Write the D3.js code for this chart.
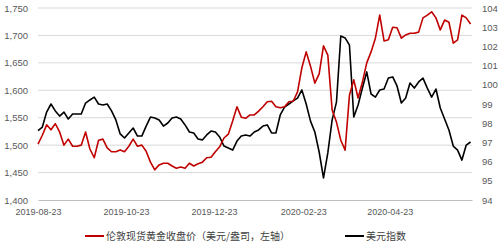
<!DOCTYPE html>
<html>
<head>
<meta charset="utf-8">
<script src="https://cdn.jsdelivr.net/npm/d3@7"></script>
<style>
  body { margin: 0; background: #fff; }
  svg { display: block; font-family: "Noto Sans CJK SC", "Noto Sans", sans-serif; }
</style>
</head>
<body>
<svg id="chart"></svg>
<script>
// sampled every 3 days from 2019-08-23
const startDate = '2019-08-23';
const dayStep = 3;

const gold = [
  1502, 1518, 1537, 1528, 1539, 1524, 1500, 1511, 1498, 1498,
  1500, 1524, 1493, 1477, 1509, 1511, 1495, 1488, 1488, 1491,
  1488, 1498, 1511, 1498, 1500, 1489, 1469, 1455, 1464, 1467,
  1467, 1462, 1458, 1460, 1458, 1467, 1462, 1466, 1469, 1477,
  1478, 1488, 1497, 1513, 1520, 1544, 1570, 1551, 1549, 1555,
  1555, 1562, 1570, 1579, 1580, 1570, 1568, 1570, 1579, 1580,
  1597, 1641, 1670, 1644, 1613, 1630, 1681, 1664, 1564, 1542,
  1509, 1491, 1591, 1619, 1586, 1615, 1650, 1670, 1695, 1737,
  1690, 1692, 1715, 1714, 1695, 1701, 1704, 1704, 1706, 1732,
  1737, 1743, 1732, 1710, 1728, 1724, 1686, 1692, 1737, 1732,
  1721
];

const dxy = [
  97.61, 97.80, 98.58, 99.00, 98.64, 98.37, 98.58, 98.22, 98.48, 98.48,
  98.48, 99.05, 99.21, 99.36, 99.00, 98.95, 99.00, 98.64, 98.17, 97.44,
  97.23, 97.49, 97.75, 97.33, 97.33, 97.85, 98.32, 98.27, 98.17, 97.85,
  98.01, 98.27, 98.32, 98.22, 97.91, 97.54, 97.49, 97.18, 97.13, 97.39,
  97.59, 97.54, 97.28, 96.81, 96.71, 96.60, 97.07, 97.33, 97.39, 97.33,
  97.54, 97.65, 97.85, 97.91, 97.49, 97.49, 98.43, 98.84, 99.00, 99.16,
  99.31, 99.73, 99.00, 98.11, 97.54, 96.50, 95.15, 96.45, 98.17, 99.10,
  102.54, 102.44, 102.07, 98.32, 98.95, 99.83, 100.67, 99.52, 99.36, 99.73,
  99.78, 100.35, 100.41, 99.94, 99.05, 99.31, 100.09, 99.83, 100.15, 100.35,
  99.83, 99.36, 99.78, 98.79, 98.22, 97.65, 96.81, 96.60, 96.08, 96.86,
  97.02
];

const dateTicks = ['2019-08-23', '2019-10-23', '2019-12-23', '2020-02-23', '2020-04-23'];
const goldTicks = [1400, 1450, 1500, 1550, 1600, 1650, 1700, 1750];
const dxyTicks = [94, 95, 96, 97, 98, 99, 100, 101, 102, 103, 104];
const seriesNames = ['伦敦现货黄金收盘价（美元/盎司，左轴）', '美元指数'];

const W = 499, H = 245;
const margin = { top: 8, right: 27, bottom: 45, left: 38 };

const parse = d3.timeParse('%Y-%m-%d');
const t0 = parse(startDate);
const dates = gold.map((d, i) => d3.timeDay.offset(t0, i * dayStep));

const svg = d3.select('#chart').attr('width', W).attr('height', H);

const x = d3.scaleTime()
    .domain([t0, d3.timeDay.offset(t0, 301)])
    .range([margin.left, W - margin.right]);

const yL = d3.scaleLinear()
    .domain([1400, 1750])
    .range([H - margin.bottom, margin.top]);

const yR = d3.scaleLinear()
    .domain([94, 104])
    .range([H - margin.bottom, margin.top]);

// gridlines
svg.append('g')
    .selectAll('line')
    .data(goldTicks.slice(1))
    .join('line')
    .attr('x1', margin.left)
    .attr('x2', W - margin.right)
    .attr('y1', d => yL(d))
    .attr('y2', d => yL(d))
    .attr('stroke', '#d9d9d9')
    .attr('stroke-width', 1);

// left axis
const leftAxis = svg.append('g')
    .attr('transform', `translate(${margin.left},0)`)
    .call(d3.axisLeft(yL).tickValues(goldTicks).tickFormat(d3.format(',')).tickSize(0).tickPadding(10));
leftAxis.select('.domain').remove();
leftAxis.selectAll('text').style('font-size', '9.5px').attr('fill', '#595959');

// right axis
const rightAxis = svg.append('g')
    .attr('transform', `translate(${W - margin.right},0)`)
    .call(d3.axisRight(yR).tickValues(dxyTicks).tickSize(0).tickPadding(10));
rightAxis.select('.domain').remove();
rightAxis.selectAll('text').style('font-size', '9.5px').attr('fill', '#595959');

// bottom axis
const bottomAxis = svg.append('g')
    .attr('transform', `translate(0,${H - margin.bottom})`)
    .call(d3.axisBottom(x).tickValues(dateTicks.map(parse)).tickFormat(d3.timeFormat('%Y-%m-%d')).tickSize(0).tickPadding(9));
bottomAxis.select('.domain').attr('stroke', '#bfbfbf');
bottomAxis.selectAll('text').style('font-size', '9px').attr('fill', '#595959');

// lines
const goldLine = d3.line()
    .x((d, i) => x(dates[i]))
    .y(d => yL(d));

const dxyLine = d3.line()
    .x((d, i) => x(dates[i]))
    .y(d => yR(d));

svg.append('path')
    .datum(dxy)
    .attr('fill', 'none')
    .attr('stroke', '#000')
    .attr('stroke-width', 1.6)
    .attr('stroke-linejoin', 'round')
    .attr('d', dxyLine);

svg.append('path')
    .datum(gold)
    .attr('fill', 'none')
    .attr('stroke', '#c00000')
    .attr('stroke-width', 1.6)
    .attr('stroke-linejoin', 'round')
    .attr('d', goldLine);

// legend
const legend = svg.append('g').attr('transform', `translate(0,${H - 9})`);
const items = [
    { name: seriesNames[0], color: '#c00000', x: 85 },
    { name: seriesNames[1], color: '#000', x: 345 }
];
items.forEach(it => {
    legend.append('line')
        .attr('x1', it.x).attr('x2', it.x + 19)
        .attr('y1', 0).attr('y2', 0)
        .attr('stroke', it.color)
        .attr('stroke-width', 2);
    legend.append('text')
        .attr('x', it.x + 21)
        .attr('y', 0)
        .attr('dy', '0.35em')
        .style('font-size', '10px')
        .attr('fill', '#404040')
        .text(it.name);
});
</script>
</body>
</html>
